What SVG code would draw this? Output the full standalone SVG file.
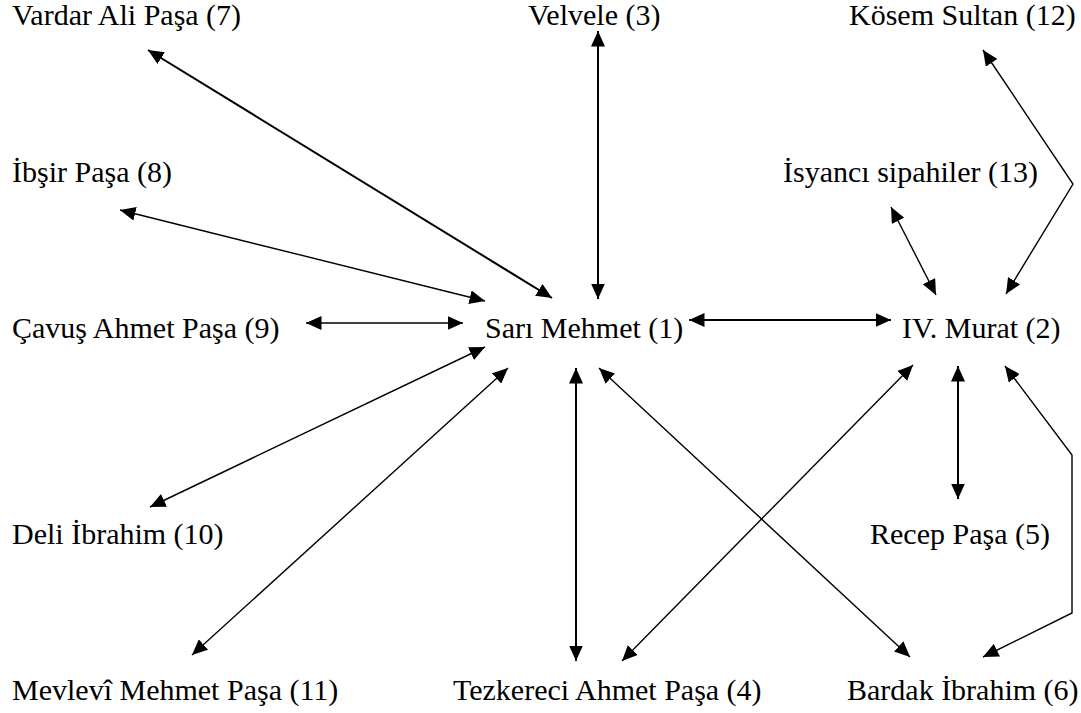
<svg xmlns="http://www.w3.org/2000/svg" width="1081" height="713" viewBox="0 0 1081 713">
  <style>
    .c { fill: none; stroke: #000; stroke-width: 1.4; marker-start: url(#head); marker-end: url(#head); }
    .thick { stroke-width: 2; }
  </style>
  <defs>
    <marker id="head" markerUnits="userSpaceOnUse" markerWidth="16" markerHeight="14" refX="15.5" refY="7" orient="auto-start-reverse" viewBox="0 0 16 14">
      <path d="M0,0 L15.5,7 L0,14 z" fill="#000"/>
    </marker>
  </defs>

  <rect width="1081" height="713" fill="#fff"/>

  <!-- connectors -->
  <g id="connectors">
    <line class="c thick" x1="148" y1="50" x2="552" y2="298"/>
    <line class="c thick" x1="598" y1="31" x2="598" y2="299"/>
    <polyline class="c" points="983,50 1073,184 1006,294"/>
    <line class="c" x1="891" y1="207" x2="936" y2="295"/>
    <line class="c" x1="120" y1="210" x2="485" y2="301"/>
    <line class="c" x1="306" y1="323" x2="463" y2="323"/>
    <line class="c thick" x1="689" y1="320" x2="891" y2="320"/>
    <line class="c" x1="150" y1="507" x2="485" y2="347"/>
    <line class="c" x1="192" y1="655" x2="508" y2="368"/>
    <line class="c thick" x1="576" y1="368" x2="576" y2="661"/>
    <line class="c" x1="622" y1="661" x2="913" y2="365"/>
    <line class="c" x1="599" y1="368" x2="910" y2="657"/>
    <line class="c thick" x1="958" y1="366" x2="958" y2="499"/>
    <polyline class="c" points="1005,366 1072,455 1072,613 983,657"/>
  </g>

  <!-- nodes -->
  <g font-family="Liberation Serif, serif" font-size="30" fill="#000">
    <g id="n7"><text x="12" y="25">Vardar Ali Paşa (7)</text></g>
    <g id="n3"><text x="528" y="25">Velvele (3)</text></g>
    <g id="n12"><text x="849" y="25">Kösem Sultan (12)</text></g>
    <g id="n8"><text x="12" y="182">İbşir Paşa (8)</text></g>
    <g id="n13"><text x="783" y="182">İsyancı sipahiler (13)</text></g>
    <g id="n9"><text x="12" y="338">Çavuş Ahmet Paşa (9)</text></g>
    <g id="n1"><text x="485" y="338">Sarı Mehmet (1)</text></g>
    <g id="n2"><text x="902" y="338">IV. Murat (2)</text></g>
    <g id="n10"><text x="12" y="544">Deli İbrahim (10)</text></g>
    <g id="n5"><text x="870" y="544">Recep Paşa (5)</text></g>
    <g id="n11"><text x="12" y="700">Mevlevî Mehmet Paşa (11)</text></g>
    <g id="n4"><text x="453" y="700">Tezkereci Ahmet Paşa (4)</text></g>
    <g id="n6"><text x="847" y="700">Bardak İbrahim (6)</text></g>
  </g>
</svg>
